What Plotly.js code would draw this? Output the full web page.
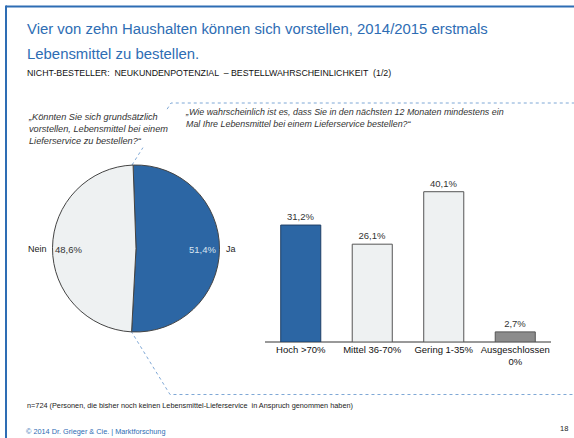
<!DOCTYPE html>
<html><head><meta charset="utf-8">
<script src="https://cdn.plot.ly/plotly-3.0.1.min.js"></script>
<style>html,body{margin:0;padding:0;background:#fff}#chart{width:574px;height:438px}</style>
</head><body><div id="chart"></div>
<script>
// Data
var pieLabels = ["Ja", "Nein"];
var pieValues = [51.4, 48.6];
var barCategories = ["Hoch >70%", "Mittel 36-70%", "Gering 1-35%", "Ausgeschlossen<br>0%"];
var barValues = [31.2, 26.1, 40.1, 2.7];

var W = 574, H = 438;
function px(x){return x/W;}
function py(y){return 1 - y/H;}
function fmt(v){return v.toFixed(1).replace('.', ',') + '%';}

var blue = '#2C66A4';
var light = '#EEF1F2';
var FONT = 'Liberation Sans, Arial';

var pieTrace = {
  type: 'pie', labels: pieLabels, values: pieValues,
  sort: false, direction: 'clockwise', rotation: -2,
  marker: {colors: [blue, light], line: {color: '#444', width: 1}},
  textinfo: 'none', hoverinfo: 'none', showlegend: false,
  domain: {x: [px(52), px(220)], y: [py(332), py(165)]}
};

var barTrace = {
  type: 'bar', x: barCategories, y: barValues,
  xaxis: 'x', yaxis: 'y',
  width: 0.56,
  marker: {color: [blue, light, light, '#8C8C8C'],
           line: {color: ['#1F3F66', '#555', '#555', '#555'], width: 1}},
  text: barValues.map(fmt), textposition: 'outside', cliponaxis: false,
  textfont: {family: FONT, size: 9.5, color: '#333'},
  hoverinfo: 'none', showlegend: false
};

var ann = [];
function txt(x, y, t, opt){
  var a = {xref: 'paper', yref: 'paper', x: px(x), y: py(y), text: t, showarrow: false,
    xanchor: 'left', yanchor: 'middle', align: 'left',
    font: {family: FONT, size: 9, color: '#222'}};
  for (var k in opt) a[k] = opt[k];
  ann.push(a);
}
var titleColor = '#2E6DB4';
txt(25, 29, 'Vier von zehn Haushalten können sich vorstellen, 2014/2015 erstmals', {font: {family: FONT, size: 14.9, color: titleColor}});
txt(25, 53.5, 'Lebensmittel zu bestellen.', {font: {family: FONT, size: 14.9, color: titleColor}});
txt(25, 72.5, 'NICHT-BESTELLER:  NEUKUNDENPOTENZIAL  – BESTELLWAHRSCHEINLICHKEIT  (1/2)', {font: {family: FONT, size: 8.8, color: '#111'}});
txt(26, 128.5, '<i>„Könnten Sie sich grundsätzlich<br>vorstellen, Lebensmittel bei einem<br>Lieferservice zu bestellen?“</i>', {bgcolor: '#fff', font: {family: FONT, size: 9.2, color: '#333'}});
txt(183, 117.5, '<i>„Wie wahrscheinlich ist es, dass Sie in den nächsten 12 Monaten mindestens ein<br>Mal Ihre Lebensmittel bei einem Lieferservice bestellen?“</i>', {bgcolor: '#fff', font: {family: FONT, size: 8.9, color: '#333'}});
// pie labels
txt(224, 249, pieLabels[0], {font: {family: FONT, size: 9, color: '#222'}});
txt(218, 249, fmt(pieValues[0]), {xanchor: 'right', font: {family: FONT, size: 9.5, color: '#D8E4F0'}});
txt(49, 249, pieLabels[1], {xanchor: 'right', font: {family: FONT, size: 9, color: '#222'}});
txt(53, 249, fmt(pieValues[1]), {font: {family: FONT, size: 9.5, color: '#333'}});
txt(25, 405, 'n=724 (Personen, die bisher noch keinen Lebensmittel-Lieferservice  in Anspruch genommen haben)', {font: {family: FONT, size: 7.3, color: '#222'}});
txt(24, 431, '© 2014 Dr. Grieger &amp; Cie. | Marktforschung', {font: {family: FONT, size: 7.3, color: titleColor}});
txt(570, 428, '18', {xanchor: 'right', font: {family: FONT, size: 7.5, color: '#222'}});

var shapes = [
  // frame
  {type: 'line', xref: 'paper', yref: 'paper', x0: px(6), x1: px(580), y0: py(6.5), y1: py(6.5), line: {color: titleColor, width: 2}},
  {type: 'line', xref: 'paper', yref: 'paper', x0: px(6), x1: px(6), y0: py(5.5), y1: py(445), line: {color: titleColor, width: 2}},
  // callout dotted lines
  {type: 'path', xref: 'paper', yref: 'paper', layer: 'below',
   path: 'M ' + px(132) + ' ' + py(165) + ' L ' + px(171) + ' ' + py(103) + ' L ' + px(580) + ' ' + py(103),
   line: {color: '#7FA8D6', width: 1, dash: 'dot'}},
  {type: 'path', xref: 'paper', yref: 'paper', layer: 'below',
   path: 'M ' + px(131) + ' ' + py(331) + ' L ' + px(170) + ' ' + py(394.5) + ' L ' + px(580) + ' ' + py(394.5),
   line: {color: '#7FA8D6', width: 1, dash: 'dot'}}
];

var layout = {
  width: W, height: H, margin: {l: 0, r: 0, t: 0, b: 0},
  paper_bgcolor: '#fff', plot_bgcolor: 'rgba(0,0,0,0)',
  xaxis: {domain: [px(265), px(551)], range: [-0.5, 3.5], type: 'category',
    showgrid: false, zeroline: false, showline: false, ticks: '',
    tickfont: {family: FONT, size: 9.5, color: '#111'}, fixedrange: true},
  yaxis: {domain: [py(342), py(100)], range: [0, 242/3.748], showgrid: false,
    zeroline: true, zerolinecolor: '#999', zerolinewidth: 2, showline: false,
    showticklabels: false, ticks: '', fixedrange: true},
  annotations: ann, shapes: shapes, font: {family: FONT}
};

Plotly.newPlot('chart', [pieTrace, barTrace], layout, {displayModeBar: false, staticPlot: true});
</script></body></html>
